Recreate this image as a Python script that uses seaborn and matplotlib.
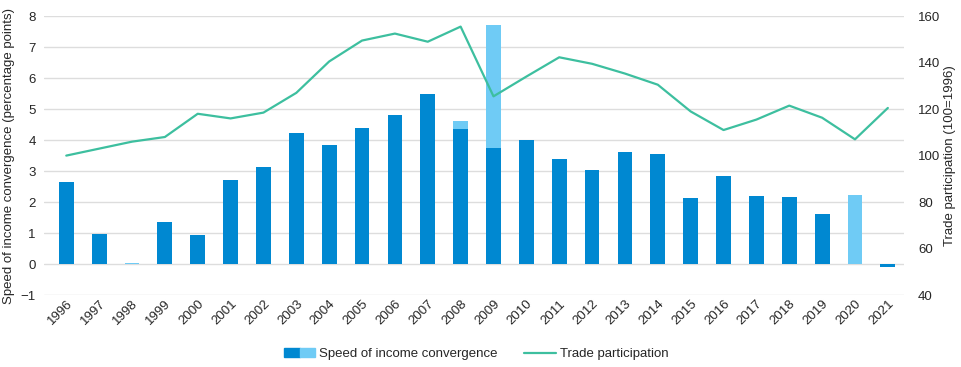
import matplotlib
matplotlib.use("Agg")
import matplotlib.pyplot as plt
from matplotlib.patches import Patch
from matplotlib.lines import Line2D
from matplotlib.legend_handler import HandlerTuple
import seaborn as sns
import pandas as pd

years = [str(y) for y in range(1996, 2022)]

# dark bars: speed of income convergence
speed = [2.65, 0.97, 0.0, 1.37, 0.93, 2.70, 3.12, 4.22, 3.83, 4.38,
         4.80, 5.50, 4.35, 3.75, 4.00, 3.38, 3.05, 3.62, 3.55, 2.12,
         2.83, 2.20, 2.15, 1.62, 0.0, -0.10]
# light bars: totals where the light segment shows (stacked on the dark part)
speed_light = [0, 0, 0.05, 0, 0, 0, 0, 0, 0, 0,
               0, 0, 4.62, 7.70, 0, 0, 0, 0, 0, 0,
               0, 0, 0, 0, 2.22, 0]
# trade participation index (100 = 1996)
trade = [100, 103, 106, 108, 118, 116, 118.5, 127, 140.5, 149.5,
         152.5, 149, 155.5, 125.5, 134, 142.3, 139.5, 135.3, 130.5, 119,
         111, 115.5, 121.5, 116.3, 107, 120.5]

df = pd.DataFrame({"year": years, "speed": speed,
                   "light": speed_light, "trade": trade})

dark_c = "#0088d1"
light_c = "#6fcbf5"
line_c = "#3dbf9f"

sns.set_style("white")
plt.rcParams["font.family"] = ["Liberation Sans", "DejaVu Sans"]

fig = plt.figure(figsize=(9.62, 3.67), dpi=100)
ax = fig.add_axes([0.046, 0.196, 0.894, 0.76])

sns.barplot(data=df, x="year", y="light", color=light_c, width=0.45,
            saturation=1, linewidth=0, ax=ax)
sns.barplot(data=df, x="year", y="speed", color=dark_c, width=0.45,
            saturation=1, linewidth=0, ax=ax)

ax.set_ylim(-1, 8)
ax.set_yticks(range(-1, 9))
ax.set_xlim(-0.67, 25.5)
ax.grid(axis="y", color="#dddddd", linewidth=1)
ax.set_axisbelow(True)
for s in ax.spines.values():
    s.set_visible(False)
ax.tick_params(axis="y", length=0, labelsize=9.5, pad=6)
ax.tick_params(axis="x", length=0, labelsize=9.5, pad=2)
plt.setp(ax.get_xticklabels(), rotation=45, ha="right", rotation_mode="anchor")
ax.set_xlabel("")
ax.set_ylabel("Speed of income convergence (percentage points)", fontsize=9.5,
              labelpad=4)

ax2 = ax.twinx()
sns.lineplot(x=list(range(len(years))), y=trade, color=line_c, linewidth=1.6,
             ax=ax2)
ax2.set_ylim(40, 160)
ax2.set_yticks(range(40, 161, 20))
for s in ax2.spines.values():
    s.set_visible(False)
ax2.tick_params(axis="y", length=0, labelsize=9.5, pad=10)
ax2.set_ylabel("Trade participation (100=1996)", fontsize=9.5)
ax2.yaxis.set_label_coords(1.046, 0.5)
ax2.grid(False)

h_bar = (Patch(color=dark_c), Patch(color=light_c))
h_line = Line2D([], [], color=line_c, linewidth=1.6)
fig.legend([h_bar, h_line], ["Speed of income convergence", "Trade participation"],
           handler_map={tuple: HandlerTuple(ndivide=None, pad=0)},
           loc="center", bbox_to_anchor=(0.495, 0.035), ncol=2, frameon=False,
           fontsize=9.5, handlelength=2.4, handleheight=0.7, columnspacing=2.0,
           handletextpad=0.3)

fig.savefig("out.png", dpi=100)
